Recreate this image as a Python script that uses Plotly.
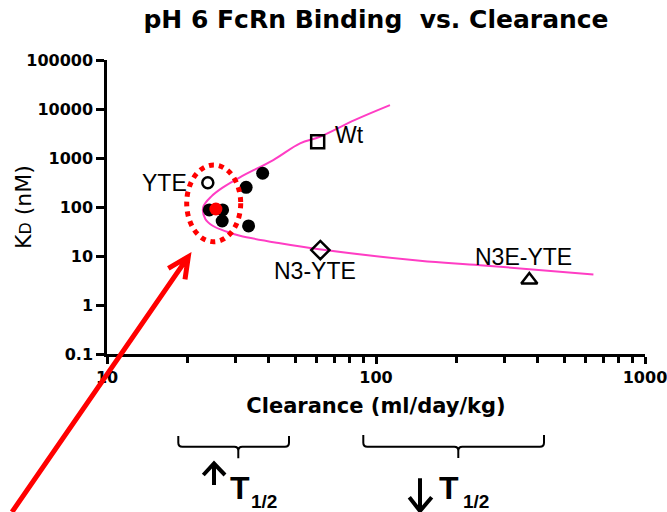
import math
import plotly.graph_objects as go

# ---------------- data ----------------
variant_clearance = [37.9, 32.9, 24.0, 26.9, 26.8, 33.6]
variant_kd = [488, 252, 87, 87, 51.8, 41]

highlight_clearance = [25.4]
highlight_kd = [91]

named_labels = ["Wt", "YTE", "N3-YTE", "N3E-YTE"]
named_clearance = [60.7, 23.7, 62.1, 371.5]
named_kd = [2150, 313, 13.2, 3.24]

fit_clearance = [112.7, 83.6, 61.9, 52.2, 41.5, 31.2, 27.0, 24.5, 22.8,
                 23.2, 24.8, 27.9, 31.2, 44.0, 61.5, 145.8, 243.8, 643]
fit_kd = [12000, 6000, 2720, 1995, 910, 404, 252, 167, 100,
          57, 40.9, 31.3, 25.9, 18.2, 13.7, 8.0, 6.5, 4.2]

x_tick_vals = [10, 100, 1000]
x_tick_text = ["10", "100", "1000"]
x_minor_vals = [20, 30, 40, 50, 60, 70, 80, 90, 200, 300, 400, 500, 600, 700, 800, 900]
y_tick_vals = [0.1, 1, 10, 100, 1000, 10000, 100000]
y_tick_text = ["0.1", "1", "10", "100", "1000", "10000", "100000"]

# ---------------- layout geometry (pixels) ----------------
W, H = 667, 512
L, R, T, B = 107, 645, 60, 354


def px(x):
    return (x - L) / (R - L)


def py(y):
    return (B - y) / (B - T)


def path(points_cmds):
    out = []
    for cmd, pts in points_cmds:
        coords = " ".join(f"{px(x):.5f},{py(y):.5f}" for x, y in pts)
        out.append(f"{cmd}{coords}")
    return " ".join(out)


label_style = {
    "Wt": dict(symbol="square-open", size=13, xanchor="left", xshift=17, yshift=7),
    "YTE": dict(symbol="circle-open", size=11, xanchor="right", xshift=-21, yshift=0),
    "N3-YTE": dict(symbol="diamond-open", size=14, xanchor="center", xshift=-5, yshift=-21),
    "N3E-YTE": dict(symbol="triangle-up-open", size=14, xanchor="center", xshift=-6, yshift=23),
}

MAGENTA = "#FF3DC4"
fig = go.Figure()

fig.add_trace(go.Scatter(
    x=fit_clearance, y=fit_kd, mode="lines",
    line=dict(color=MAGENTA, width=2, shape="spline", smoothing=1.0),
    hoverinfo="skip", showlegend=False))

for name, cl, kd in zip(named_labels, named_clearance, named_kd):
    st = label_style[name]
    fig.add_trace(go.Scatter(
        x=[cl], y=[kd], mode="markers", name=name, showlegend=False,
        marker=dict(symbol=st["symbol"], size=st["size"], color="black",
                    line=dict(color="black", width=2.5))))

fig.add_trace(go.Scatter(
    x=variant_clearance, y=variant_kd, mode="markers", showlegend=False,
    marker=dict(symbol="circle", size=13, color="black")))

fig.add_trace(go.Scatter(
    x=highlight_clearance, y=highlight_kd, mode="markers", showlegend=False,
    marker=dict(symbol="circle", size=13, color="#FF0000")))

annotations = []
LABEL_FONT = dict(family="Liberation Sans, Arial, sans-serif", size=23, color="black")
for name, cl, kd in zip(named_labels, named_clearance, named_kd):
    st = label_style[name]
    annotations.append(dict(
        x=math.log10(cl), y=math.log10(kd), xref="x", yref="y", text=name,
        showarrow=False, xanchor=st["xanchor"], yanchor="middle",
        xshift=st["xshift"], yshift=st["yshift"], font=LABEL_FONT,
        borderpad=0, borderwidth=0))

# y axis title
annotations.append(dict(
    x=px(23), y=0.5, xref="paper", yref="paper",
    text="K<span style='font-size:16px'>D</span> (nM)", textangle=-90,
    showarrow=False, xanchor="center", yanchor="middle",
    font=dict(family="DejaVu Sans, sans-serif", size=22, color="black")))

# T1/2 labels
T_FONT = dict(family="Liberation Sans, Arial, sans-serif", size=32, color="black", weight="bold")
SUB_FONT = dict(family="Liberation Sans, Arial, sans-serif", size=19, color="black", weight="bold")
for tx, sx in [(229, 250), (438, 461.7)]:
    annotations.append(dict(x=px(tx), y=py(488), xref="paper", yref="paper", text="T",
                            showarrow=False, xanchor="left", yanchor="middle",
                            font=T_FONT, borderpad=0))
    annotations.append(dict(x=px(sx), y=py(501.7), xref="paper", yref="paper", text="1/2",
                            showarrow=False, xanchor="left", yanchor="middle",
                            font=SUB_FONT, borderpad=0))

shapes = []
# red dotted ellipse
shapes.append(dict(type="circle", xref="paper", yref="paper",
                   x0=px(186.7), x1=px(240.7), y0=py(241.7), y1=py(165),
                   line=dict(color="#FF0000", width=5, dash="dot")))
# red arrow
shapes.append(dict(type="path", xref="paper", yref="paper",
                   path=path([("M", [(12, 512)]), ("L", [(188.3, 256.7)]),
                              ("M", [(168.3, 268.4)]), ("L", [(188.3, 256.7)]),
                              ("L", [(185, 279.4)])]),
                   line=dict(color="#FF0000", width=5)))


def brace(x1, x2, xm, yt, yh, ym):
    r = 4
    return path([
        ("M", [(x1, yt)]), ("L", [(x1, yh - r)]), ("Q", [(x1, yh), (x1 + r, yh)]),
        ("L", [(xm - r, yh)]), ("Q", [(xm, yh), (xm, yh + r)]), ("L", [(xm, ym)]),
        ("M", [(xm, yh + r)]), ("Q", [(xm, yh), (xm + r, yh)]),
        ("L", [(x2 - r, yh)]), ("Q", [(x2, yh), (x2, yh - r)]), ("L", [(x2, yt)]),
    ])


shapes.append(dict(type="path", xref="paper", yref="paper",
                   path=brace(178.3, 289, 238.3, 436, 446.7, 458.3),
                   line=dict(color="black", width=2)))
shapes.append(dict(type="path", xref="paper", yref="paper",
                   path=brace(363.3, 544, 458.3, 435, 446.7, 458),
                   line=dict(color="black", width=2)))

# up / down arrows
shapes.append(dict(type="path", xref="paper", yref="paper",
                   path=path([("M", [(214, 485)]), ("L", [(214, 464)]),
                              ("M", [(203.3, 475)]), ("L", [(214, 463.5)]), ("L", [(225, 475)])]),
                   line=dict(color="black", width=4)))
shapes.append(dict(type="path", xref="paper", yref="paper",
                   path=path([("M", [(420, 478.3)]), ("L", [(420, 510)]),
                              ("M", [(409.3, 497.3)]), ("L", [(420, 511)]), ("L", [(431.7, 497.3)])]),
                   line=dict(color="black", width=4)))

TICK_FONT = dict(family="DejaVu Sans, sans-serif", size=16, color="black", weight="bold")

fig.update_layout(
    template="none",
    width=W, height=H,
    margin=dict(l=L, r=W - R, t=T, b=H - B, pad=0),
    paper_bgcolor="white", plot_bgcolor="white",
    showlegend=False,
    title=dict(text="pH 6 FcRn Binding  vs. Clearance", x=0.5, xref="paper",
               xanchor="center", y=1 - 19 / H, yref="container", yanchor="middle",
               font=dict(family="DejaVu Sans, sans-serif", size=25, color="black", weight="bold")),
    xaxis=dict(type="log", range=[1, 3], showgrid=False, zeroline=False,
               showline=True, linecolor="black", linewidth=2.5,
               ticks="outside", ticklen=7, tickwidth=2.5, tickcolor="black",
               tickmode="array", tickvals=x_tick_vals, ticktext=x_tick_text,
               tickfont=TICK_FONT, automargin=False, ticklabeloverflow="allow",
               minor=dict(ticks="outside", ticklen=6, tickwidth=2.5, tickcolor="black",
                          tickvals=x_minor_vals, showgrid=False),
               title=dict(text="Clearance (ml/day/kg)", standoff=13,
                          font=dict(family="DejaVu Sans, sans-serif", size=21,
                                    color="black", weight="bold"))),
    yaxis=dict(type="log", range=[-1, 5], showgrid=False, zeroline=False,
               showline=True, linecolor="black", linewidth=2.5,
               ticks="outside", ticklen=8, tickwidth=2.5, tickcolor="black",
               tickmode="array", tickvals=y_tick_vals, ticktext=y_tick_text,
               tickfont=TICK_FONT, automargin=False),
    annotations=annotations,
    shapes=shapes,
)

fig.write_html("out.html")
